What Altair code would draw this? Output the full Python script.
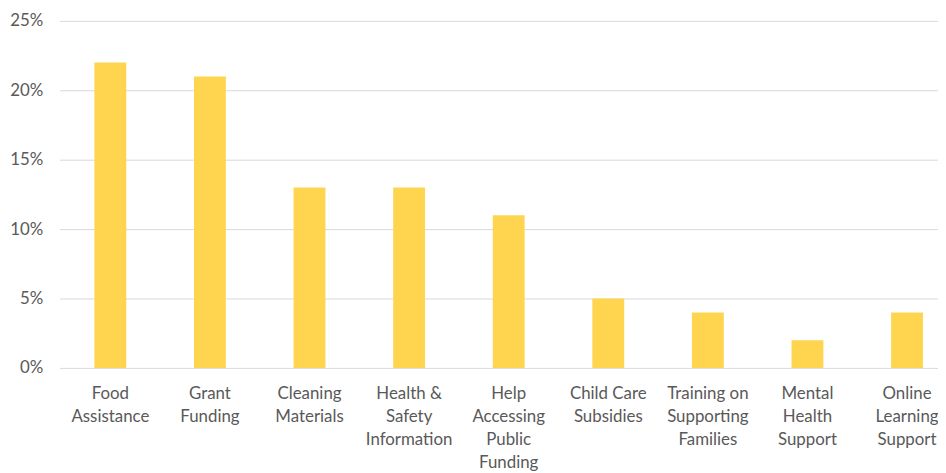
import altair as alt
import pandas as pd

categories = [
    "Food|Assistance",
    "Grant|Funding",
    "Cleaning|Materials",
    "Health &|Safety|Information",
    "Help|Accessing|Public|Funding",
    "Child Care|Subsidies",
    "Training on|Supporting|Families",
    "Mental|Health|Support",
    "Online|Learning|Support",
]
values = [0.22, 0.21, 0.13, 0.13, 0.11, 0.05, 0.04, 0.02, 0.04]

df = pd.DataFrame({"category": categories, "value": values})

chart = (
    alt.Chart(df)
    .mark_bar(color="#FFD54F")
    .encode(
        x=alt.X(
            "category:N",
            sort=None,
            scale=alt.Scale(paddingInner=0.68, paddingOuter=0.35, range=[0, 906]),
            axis=alt.Axis(
                title=None,
                labelAngle=0,
                labelExpr="split(datum.label, '|')",
                labelFont="Lato",
                labelFontSize=17,
                labelColor="#595959",
                labelLineHeight=23,
                labelPadding=18,
                labelBaseline="top",
                domain=False,
                ticks=False,
                grid=False,
            ),
        ),
        y=alt.Y(
            "value:Q",
            scale=alt.Scale(domain=[0, 0.25]),
            axis=alt.Axis(
                title=None,
                format=".0%",
                values=[0, 0.05, 0.10, 0.15, 0.20, 0.25],
                labelFont="Lato",
                labelFontSize=17,
                labelColor="#595959",
                labelPadding=17,
                domain=False,
                ticks=False,
                grid=True,
                gridColor="#D9D9D9",
                gridWidth=1,
            ),
        ),
    )
    .properties(
        width=886,
        height=350,
        autosize=alt.AutoSizeParams(type="none"),
        padding={"left": 52, "top": 11, "right": 0, "bottom": 105},
    )
    .configure_view(stroke=None)
)

chart.save("out.html", embed_options={"renderer": "svg", "actions": False})
